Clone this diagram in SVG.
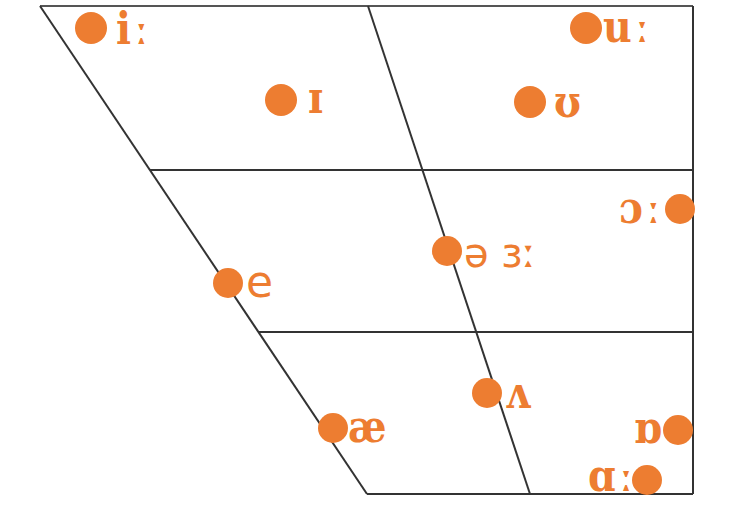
<svg xmlns="http://www.w3.org/2000/svg" width="736" height="509" viewBox="0 0 736 509">
<style>
.ln{stroke:#333;stroke-width:2;fill:none}
.dot{fill:#ED7D31}
.s{font-family:"DejaVu Serif Condensed","DejaVu Serif",serif;font-stretch:condensed;font-weight:bold;font-size:44px;fill:#ED7D31}
.ss{font-family:"DejaVu Sans","Liberation Sans",sans-serif;font-size:40px;fill:#ED7D31}
</style>
<rect width="736" height="509" fill="#fff"/>
<g id="connectors">
<line class="ln" x1="40" y1="6" x2="693" y2="6" style="stroke:#555"/>
<line class="ln" x1="40" y1="6" x2="367" y2="494"/>
<line class="ln" x1="367" y1="494" x2="693" y2="494"/>
<line class="ln" x1="693" y1="6" x2="693" y2="494"/>
<line class="ln" x1="368" y1="6" x2="530" y2="494"/>
<line class="ln" x1="150" y1="170" x2="693" y2="170"/>
<line class="ln" x1="258" y1="332" x2="693" y2="332"/>
</g>
<g id="n-i"><circle class="dot" cx="91" cy="28" r="16"/><text class="s" x="116" y="44">i<tspan dx="3">ː</tspan></text></g>
<g id="n-I"><circle class="dot" cx="281" cy="100" r="16"/><text class="s" x="308" y="113">ɪ</text></g>
<g id="n-u"><circle class="dot" cx="586" cy="28" r="16"/><text class="s" x="603" y="42">u<tspan dx="3">ː</tspan></text></g>
<g id="n-U"><circle class="dot" cx="530" cy="102" r="16"/><text class="s" x="554" y="117">ʊ</text></g>
<g id="n-o"><circle class="dot" cx="680" cy="209" r="15"/><text class="s" x="619" y="223">ɔ<tspan dx="3">ː</tspan></text></g>
<g id="n-schwa"><circle class="dot" cx="447" cy="251" r="15"/><text class="ss" x="464" y="267">ə ɜː</text></g>
<g id="n-e"><circle class="dot" cx="228" cy="283" r="15"/><text class="ss" x="246" y="297" style="font-size:44px">e</text></g>
<g id="n-v"><circle class="dot" cx="487" cy="393" r="15"/><text class="s" x="505" y="408">ʌ</text></g>
<g id="n-ae"><circle class="dot" cx="333" cy="428" r="15"/><text class="s" x="348" y="442">æ</text></g>
<g id="n-D"><circle class="dot" cx="678" cy="430" r="15"/><text class="s" x="634" y="443">ɒ</text></g>
<g id="n-a"><circle class="dot" cx="647" cy="480" r="15"/><text class="s" x="588" y="491">ɑ<tspan dx="3">ː</tspan></text></g>
</svg>
